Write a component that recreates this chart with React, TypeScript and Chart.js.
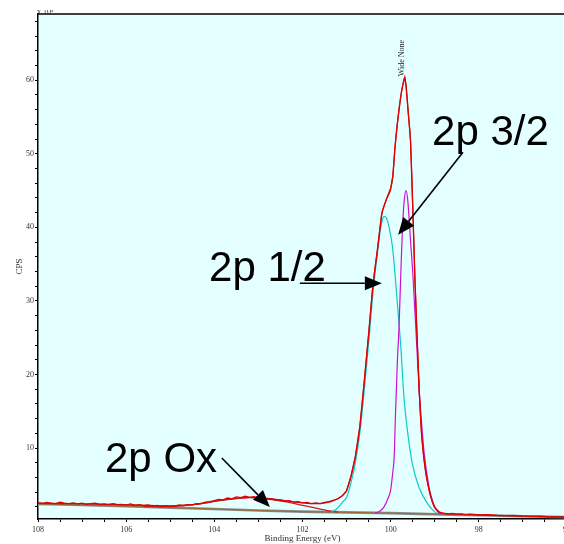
import React, { useEffect, useRef } from 'react';
import { Chart, registerables } from 'chart.js';

Chart.register(...registerables);

// ---- Data (CPS in units of 10^3, binding energy in eV) ----
const measuredEnergy = [
  108.0, 107.9, 107.8, 107.7, 107.6, 107.5, 107.4, 107.3, 107.2, 107.1,
  107.0, 106.9, 106.8, 106.7, 106.6, 106.5, 106.4, 106.3, 106.2, 106.1,
  106.0, 105.9, 105.8, 105.7, 105.6, 105.5, 105.4, 105.3, 105.2, 105.1,
  105.0, 104.9, 104.8, 104.7, 104.6, 104.5, 104.4, 104.3, 104.2, 104.1,
  104.0, 103.9, 103.8, 103.7, 103.6, 103.5, 103.4, 103.3, 103.2, 103.1,
  103.0, 102.9, 102.8, 102.7, 102.6, 102.5, 102.4, 102.3, 102.2, 102.1,
  102.0, 101.9, 101.8, 101.7, 101.6, 101.5, 101.4, 101.3, 101.2, 101.1,
  101.0, 100.9, 100.8, 100.7, 100.6, 100.5, 100.4, 100.3, 100.2, 100.1,
  100.0, 99.95, 99.9, 99.85, 99.8, 99.75, 99.7, 99.68, 99.65, 99.6,
  99.55, 99.5, 99.45, 99.4, 99.35, 99.3, 99.25, 99.2, 99.15, 99.1,
  99.05, 99.0, 98.9, 98.8, 98.7, 98.6, 98.5, 98.4, 98.3, 98.2,
  98.0, 97.8, 97.6, 97.4, 97.2, 97.0, 96.8, 96.6, 96.4, 96.2, 96.0,
];
const measuredCps = [
  2.55, 2.45, 2.6, 2.5, 2.45, 2.65, 2.5, 2.45, 2.55, 2.4,
  2.5, 2.35, 2.45, 2.5, 2.35, 2.4, 2.3, 2.45, 2.3, 2.35,
  2.25, 2.4, 2.2, 2.3, 2.15, 2.25, 2.1, 2.2, 2.05, 2.15,
  2.05, 2.1, 2.25, 2.15, 2.3, 2.25, 2.45, 2.4, 2.65, 2.7,
  2.85, 3.0, 2.95, 3.2, 3.1, 3.35, 3.25, 3.45, 3.3, 3.4,
  3.2, 3.25, 3.05, 3.1, 2.9, 2.95, 2.8, 2.85, 2.65, 2.7,
  2.55, 2.6, 2.45, 2.55, 2.45, 2.6, 2.7, 2.9, 3.1, 3.5,
  4.2, 6.2, 8.9, 12.9, 19.0, 25.5, 32.3, 37.0, 42.0, 43.8,
  45.3, 47.0, 51.0, 54.0, 56.5, 58.6, 60.0, 60.4, 59.2, 55.5,
  51.8, 43.0, 33.0, 25.0, 17.5, 12.0, 8.8, 6.5, 4.9, 3.6,
  2.6, 1.9, 1.3, 1.15, 1.05, 1.1, 1.0, 1.05, 0.95, 1.0,
  0.9, 0.95, 0.85, 0.8, 0.85, 0.75, 0.7, 0.75, 0.65, 0.6, 0.6,
];

const envelopeEnergy = [
  108, 107.5, 107, 106.5, 106, 105.5, 105, 104.5, 104.2, 104,
  103.7, 103.4, 103.2, 103, 102.7, 102.4, 102.1, 101.8, 101.6, 101.4,
  101.3, 101.2, 101.1, 101.0, 100.9, 100.8, 100.7, 100.6, 100.5, 100.4,
  100.3, 100.2, 100.1, 100.0, 99.95, 99.9, 99.85, 99.8, 99.75, 99.7,
  99.68, 99.65, 99.6, 99.55, 99.5, 99.45, 99.4, 99.35, 99.3, 99.25,
  99.2, 99.15, 99.1, 99.05, 99.0, 98.9, 98.8, 98.0, 97.0, 96.0,
];
const envelopeCps = [
  2.5, 2.45, 2.42, 2.35, 2.28, 2.2, 2.12, 2.3, 2.55, 2.75,
  3.0, 3.2, 3.28, 3.25, 3.08, 2.85, 2.6, 2.45, 2.45, 2.65,
  2.85, 3.1, 3.5, 4.2, 6.1, 8.8, 12.8, 18.9, 25.4, 32.2,
  36.9, 41.8, 43.7, 45.2, 47.0, 51.0, 54.0, 56.5, 58.6, 60.0,
  60.4, 59.2, 55.5, 51.8, 43.0, 33.0, 25.0, 17.5, 12.0, 8.8,
  6.5, 4.9, 3.6, 2.6, 1.9, 1.3, 1.1, 0.92, 0.75, 0.6,
];

const oxEnergy = [
  105.6, 105.2, 104.8, 104.5, 104.2, 104.0, 103.7, 103.4, 103.2, 103.0,
  102.7, 102.4, 102.1, 101.8, 101.6, 101.4, 101.2,
];
const oxCps = [
  2.05, 2.05, 2.15, 2.3, 2.55, 2.75, 3.0, 3.2, 3.25, 3.2,
  3.0, 2.7, 2.35, 1.95, 1.7, 1.45, 1.3,
];

const backgroundEnergy = [108, 107, 106, 105, 104, 103, 102, 101, 100, 99, 98, 97, 96];
const backgroundCps = [2.4, 2.25, 2.1, 1.9, 1.7, 1.5, 1.35, 1.25, 1.15, 1.0, 0.85, 0.72, 0.6];

// 2p 1/2 component (cyan)
const p12Energy = [
  101.35, 101.25, 101.15, 101.05, 101.0, 100.9, 100.8, 100.7, 100.6, 100.5,
  100.4, 100.3, 100.23, 100.18, 100.15, 100.1, 100.04, 99.96, 99.89, 99.83,
  99.77, 99.7, 99.62, 99.51, 99.36, 99.17, 99.05, 98.94, 98.85,
];
const p12Cps = [
  1.28, 1.6, 2.2, 2.9, 3.3, 5.3, 8.0, 12.0, 17.8, 24.2,
  31.2, 36.5, 39.8, 41.2, 41.5, 41.3, 40.1, 37.4, 32.8, 28.3,
  23.8, 17.0, 12.4, 7.9, 4.7, 2.5, 1.6, 1.1, 1.0,
];

// 2p 3/2 component (magenta)
const p32Energy = [
  100.35, 100.25, 100.15, 100.05, 100.0, 99.95, 99.92, 99.89, 99.85, 99.81,
  99.77, 99.73, 99.69, 99.65, 99.61, 99.55, 99.5, 99.45, 99.4, 99.35,
  99.3, 99.24, 99.13, 99.05, 99.0, 98.9, 98.85,
];
const p32Cps = [
  1.15, 1.4, 2.0, 3.3, 4.3, 6.8, 8.8, 14.7, 21.5, 26.5,
  33.7, 40.1, 43.8, 45.0, 43.5, 38.2, 34.0, 28.5, 23.0, 17.5,
  13.5, 9.3, 4.7, 2.8, 2.0, 1.1, 1.0,
];

const xMajorTicks = [108, 106, 104, 102, 100, 98, 96];
const yMajorTicks = [10, 20, 30, 40, 50, 60];

const xTitle = 'Binding Energy (eV)';
const yTitle = 'CPS';
const yUnit = 'x 10³';
const peakLabel = 'Wide None';
const peakLabelAt = [99.74, 60.4];

const notes = [
  { text: '2p 3/2', at: [99.06, 51.2], from: [98.36, 50.2], to: [99.83, 39.0] },
  { text: '2p 1/2', at: [104.12, 32.7], from: [102.06, 32.4], to: [100.2, 32.4] },
  { text: '2p Ox', at: [106.48, 6.74], from: [103.83, 8.64], to: [102.74, 1.98] },
];

const zip = (xs: number[], ys: number[]) => xs.map((x, i) => ({ x, y: ys[i] }));

const serif = 'Liberation Serif, Times New Roman, serif';
const sans = 'Liberation Sans, Arial, sans-serif';

const decorPlugin = {
  id: 'decor',
  beforeDraw(chart: any) {
    const { ctx, chartArea } = chart;
    ctx.save();
    ctx.fillStyle = '#E3FFFF';
    ctx.fillRect(chartArea.left, chartArea.top, chartArea.right - chartArea.left, chartArea.bottom - chartArea.top);
    ctx.restore();
  },
  afterDatasetsDraw(chart: any) {
    const { ctx, chartArea, scales } = chart;
    const xs = scales.x;
    const ys = scales.y;
    const px = (e: number) => xs.getPixelForValue(e);
    const py = (v: number) => ys.getPixelForValue(v);

    ctx.save();
    // top border
    ctx.strokeStyle = '#000';
    ctx.lineWidth = 1.5;
    ctx.beginPath();
    ctx.moveTo(chartArea.left, chartArea.top);
    ctx.lineTo(chartArea.right, chartArea.top);
    ctx.stroke();

    // unit label (partly cut off at top)
    ctx.save();
    ctx.beginPath();
    ctx.rect(0, 10, 120, 4);
    ctx.clip();
    ctx.fillStyle = '#333';
    ctx.font = `8px ${serif}`;
    ctx.textAlign = 'left';
    ctx.textBaseline = 'alphabetic';
    ctx.fillText(yUnit, chartArea.left - 1, 14);
    ctx.restore();

    // peak label
    ctx.save();
    ctx.translate(px(peakLabelAt[0]), py(peakLabelAt[1]) - 1);
    ctx.rotate(-Math.PI / 2);
    ctx.fillStyle = '#222';
    ctx.font = `8px ${serif}`;
    ctx.textAlign = 'left';
    ctx.textBaseline = 'middle';
    ctx.fillText(peakLabel, 0, 0);
    ctx.restore();

    // annotations
    ctx.fillStyle = '#000';
    ctx.strokeStyle = '#000';
    ctx.font = `42px ${sans}`;
    ctx.textAlign = 'left';
    ctx.textBaseline = 'alphabetic';
    notes.forEach((n) => {
      ctx.fillText(n.text, px(n.at[0]), py(n.at[1]));
      const x1 = px(n.from[0]);
      const y1 = py(n.from[1]);
      const x2 = px(n.to[0]);
      const y2 = py(n.to[1]);
      const ang = Math.atan2(y2 - y1, x2 - x1);
      const L = 17;
      const W = 7;
      const bx = x2 - L * Math.cos(ang);
      const by = y2 - L * Math.sin(ang);
      ctx.lineWidth = 1.6;
      ctx.beginPath();
      ctx.moveTo(x1, y1);
      ctx.lineTo(bx, by);
      ctx.stroke();
      ctx.beginPath();
      ctx.moveTo(x2, y2);
      ctx.lineTo(bx - W * Math.sin(ang), by + W * Math.cos(ang));
      ctx.lineTo(bx + W * Math.sin(ang), by - W * Math.cos(ang));
      ctx.closePath();
      ctx.fill();
    });
    ctx.restore();
  },
};

export default function App() {
  const ref = useRef<HTMLCanvasElement | null>(null);

  useEffect(() => {
    document.body.style.margin = '0';
    const canvas = ref.current;
    if (!canvas) return;

    const line = (data: any[], color: string, width: number, smooth = false) => ({
      data,
      borderColor: color,
      backgroundColor: color,
      borderWidth: width,
      pointRadius: 0,
      fill: false,
      cubicInterpolationMode: smooth ? 'monotone' : 'default',
      tension: 0,
    });

    const chart = new Chart(canvas, {
      type: 'line',
      data: {
        datasets: [
          line(zip(measuredEnergy, measuredCps), '#E00000', 1.3),
          line(zip(envelopeEnergy, envelopeCps), '#C01818', 1.2, true),
          line(zip(p32Energy, p32Cps), '#D010D0', 1.2, true),
          line(zip(p12Energy, p12Cps), '#10C8C8', 1.2, true),
          line(zip(oxEnergy, oxCps), '#C82020', 1.3, true),
          line(zip(backgroundEnergy, backgroundCps), '#9A6A30', 1, true),
          line(zip(backgroundEnergy, backgroundCps), '#8C8C8C', 2.6, true),
        ] as any,
      },
      options: {
        responsive: false,
        devicePixelRatio: 1,
        animation: false,
        layout: { padding: { left: 0, top: 14, right: 13, bottom: 0 } },
        plugins: { legend: { display: false }, tooltip: { enabled: false } },
        scales: {
          x: {
            type: 'linear',
            reverse: true,
            min: 96,
            max: 108,
            afterFit: (s: any) => { s.height = 25; },
            afterBuildTicks: (s: any) => {
              const t = [];
              for (let v = 96; v <= 108.001; v += 0.5) t.push({ value: Math.round(v * 10) / 10 });
              s.ticks = t;
            },
            ticks: {
              autoSkip: false,
              maxRotation: 0,
              padding: 3,
              color: '#333',
              font: { family: serif, size: 8 },
              callback: (v: any) => (xMajorTicks.includes(Number(v)) ? String(v) : ''),
            },
            grid: { drawOnChartArea: false, drawTicks: true, tickLength: 3, color: '#000', lineWidth: 1 },
            border: { display: true, color: '#000', width: 1.5 },
            title: {
              display: true,
              text: xTitle,
              color: '#333',
              font: { family: serif, size: 9 },
              padding: { top: 0, bottom: 0 },
            },
          },
          y: {
            type: 'linear',
            min: 0.35,
            max: 69,
            afterFit: (s: any) => { s.width = 38; },
            afterBuildTicks: (s: any) => {
              const t = [];
              for (let v = 2; v <= 68; v += 2) t.push({ value: v });
              s.ticks = t;
            },
            ticks: {
              autoSkip: false,
              padding: 1,
              color: '#333',
              font: { family: serif, size: 8 },
              callback: (v: any) => (yMajorTicks.includes(Number(v)) ? String(v) : ''),
            },
            grid: { drawOnChartArea: false, drawTicks: true, tickLength: 3, color: '#000', lineWidth: 1 },
            border: { display: true, color: '#000', width: 1.5 },
            title: {
              display: true,
              text: yTitle,
              color: '#333',
              font: { family: serif, size: 9 },
              padding: { top: 14.5, bottom: 0 },
            },
          },
        },
      } as any,
      plugins: [decorPlugin],
    });

    return () => chart.destroy();
  }, []);

  return (
    <div style={{ width: 564, height: 544, overflow: 'hidden', position: 'relative', background: '#fff' }}>
      <canvas ref={ref} width={580} height={544} style={{ display: 'block', width: 580, height: 544 }} />
    </div>
  );
}
